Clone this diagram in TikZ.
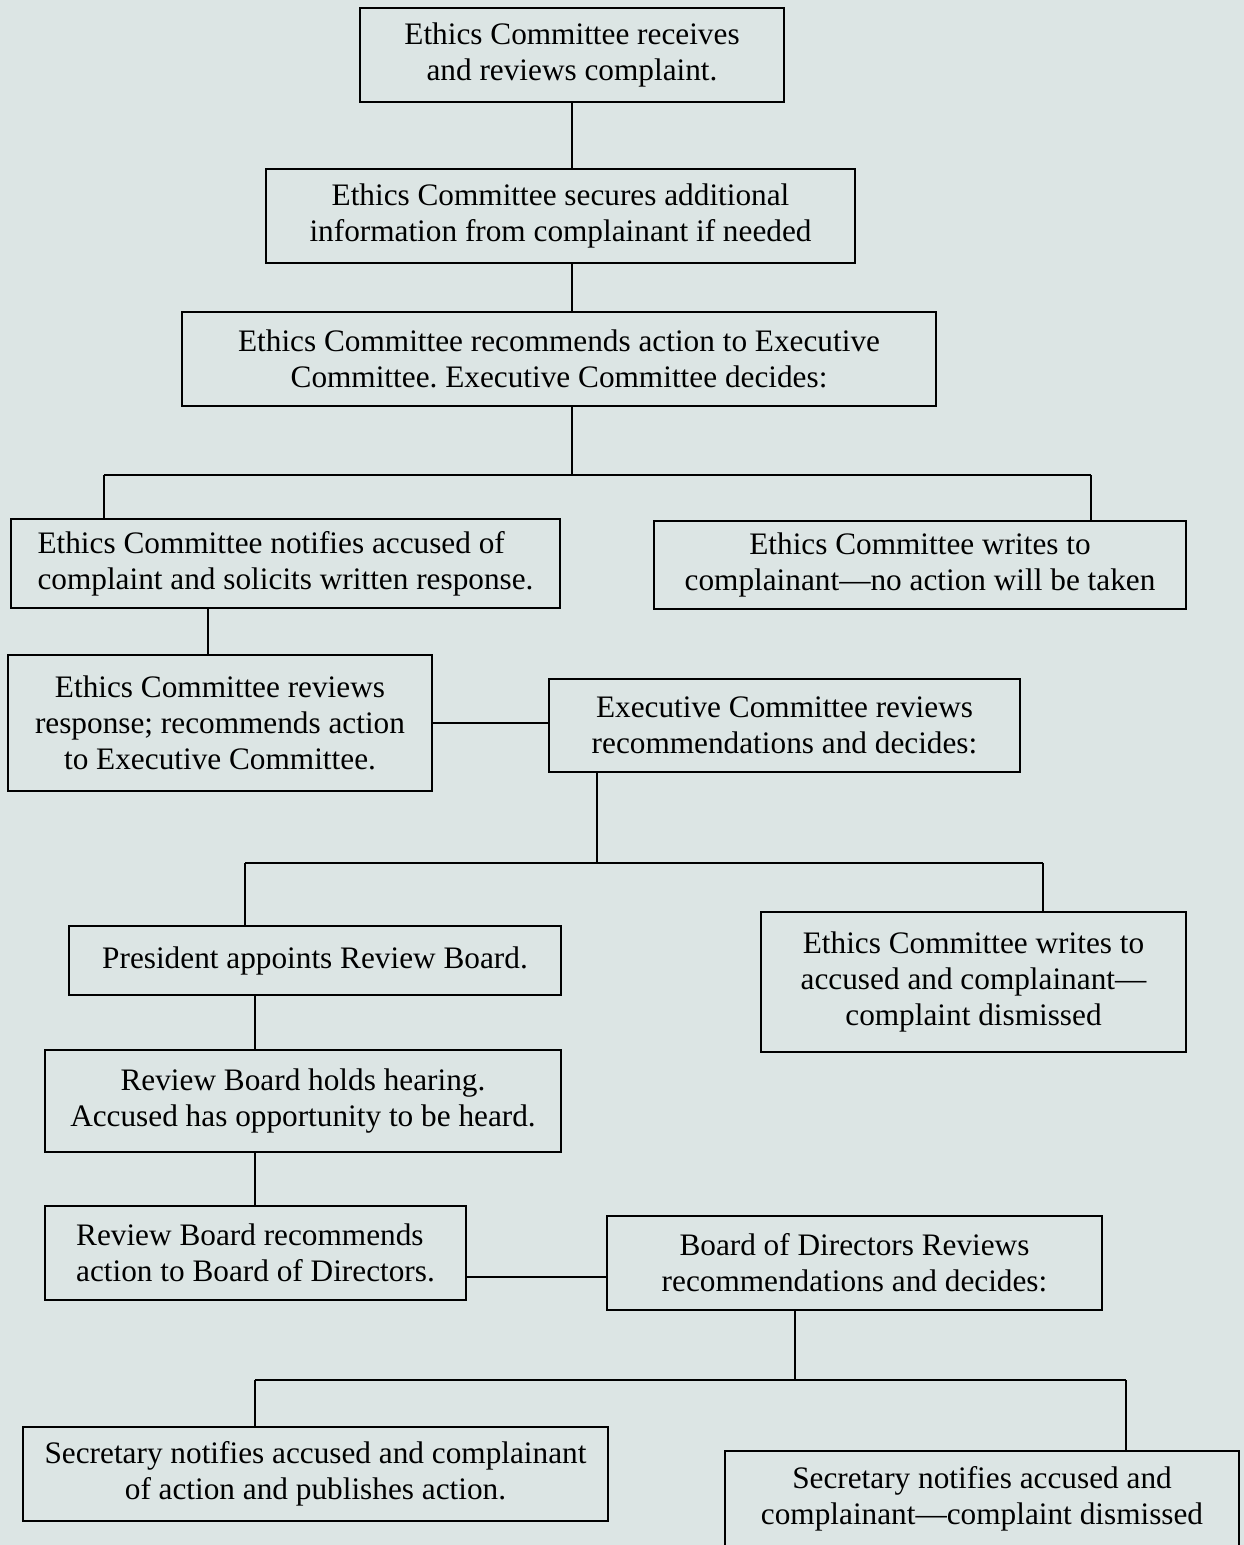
\documentclass[tikz,border=0pt]{standalone}
\usepackage{fontspec}
\setmainfont{Liberation Serif}
\usetikzlibrary{positioning}
\definecolor{bgpanel}{HTML}{DCE5E4}
\tikzset{
  box/.style={draw, line width=1.4pt, fill=bgpanel, align=center, inner sep=0pt,
    font=\fontsize{17.8}{20.5}\selectfont\frenchspacing},
  link/.style={line width=1.4pt}
}

\begin{document}
\begin{tikzpicture}[x=0.02cm, y=-0.02cm]
    \useasboundingbox[fill=bgpanel] (0,0) rectangle (1244,1545);
    % Intake
    \node[box, minimum width=8.48cm, minimum height=1.88cm] (receive) at (572,55)
         {Ethics Committee receives\\and reviews complaint.};
    \node[box, minimum width=11.78cm, minimum height=1.88cm] (secure) at (560.5,216)
         {Ethics Committee secures additional\\information from complainant if needed};
    \node[box, minimum width=15.08cm, minimum height=1.88cm] (recommend) at (559,359)
         {Ethics Committee recommends action to Executive\\Committee. Executive Committee decides:};
    % First decision
    \node[box, align=left, minimum width=10.98cm, minimum height=1.78cm] (notify) at (285.5,563.5)
         {Ethics Committee notifies accused of\\complaint and solicits written response.};
    \node[box, minimum width=10.64cm, minimum height=1.76cm] (noaction) at (920,565)
         {Ethics Committee writes to\\complainant---no action will be taken};
    \node[box, minimum width=8.48cm, minimum height=2.72cm] (response) at (220,723)
         {Ethics Committee reviews\\response; recommends action\\to Executive Committee.};
    \node[box, minimum width=9.42cm, minimum height=1.86cm] (execreview) at (784.5,725.5)
         {Executive Committee reviews\\recommendations and decides:};
    % Second decision
    \node[box, minimum width=9.84cm, minimum height=1.38cm] (appoint) at (315,960.5)
         {President appoints Review Board.};
    \node[box, minimum width=8.5cm, minimum height=2.8cm] (dismissA) at (973.5,982)
         {Ethics Committee writes to\\accused and complainant---\\complaint dismissed};
    \node[box, minimum width=10.32cm, minimum height=2.04cm] (hearing) at (303,1101)
         {Review Board holds hearing.\\Accused has opportunity to be heard.};
    \node[box, align=left, minimum width=8.42cm, minimum height=1.88cm] (boardrec) at (255.5,1253)
         {Review Board recommends\\action to Board of Directors.};
    \node[box, minimum width=9.9cm, minimum height=1.88cm] (directors) at (854.5,1263)
         {Board of Directors Reviews\\recommendations and decides:};
    % Final decision
    \node[box, minimum width=11.7cm, minimum height=1.88cm] (publish) at (315.5,1474)
         {Secretary notifies accused and complainant\\of action and publishes action.};
    \node[box, minimum width=10.28cm, minimum height=1.92cm] (dismissB) at (982,1499)
         {Secretary notifies accused and\\complainant---complaint dismissed};
    % Junction points
    \coordinate (j1) at (572,475);
    \coordinate (j1l) at (104,475);
    \coordinate (j1r) at (1091,475);
    \coordinate (c46) at (208,0);
    \coordinate (j2) at (597,863);
    \coordinate (j2l) at (245,863);
    \coordinate (j2r) at (1043,863);
    \coordinate (c810) at (255,0);
    \coordinate (r1112) at (0,1277);
    \coordinate (j3) at (795,1380);
    \coordinate (j3l) at (255,1380);
    \coordinate (j3r) at (1126,1380);
    % Connectors
    \draw[link] (receive.south) -- (receive.south |- secure.north);
    \draw[link] (receive.south |- secure.south) -- (receive.south |- recommend.north);
    \draw[link] (recommend.south -| j1) -- (j1);
    \draw[link] (j1l) -- (j1r);
    \draw[link] (j1l) -- (j1l |- notify.north);
    \draw[link] (j1r) -- (j1r |- noaction.north);
    \draw[link] (notify.south -| c46) -- (response.north -| c46);
    \draw[link] (response.east) -- (response.east -| execreview.west);
    \draw[link] (execreview.south -| j2) -- (j2);
    \draw[link] (j2l) -- (j2r);
    \draw[link] (j2l) -- (j2l |- appoint.north);
    \draw[link] (j2r) -- (j2r |- dismissA.north);
    \draw[link] (appoint.south -| c810) -- (hearing.north -| c810);
    \draw[link] (hearing.south -| c810) -- (boardrec.north -| c810);
    \draw[link] (boardrec.east |- r1112) -- (directors.west |- r1112);
    \draw[link] (directors.south -| j3) -- (j3);
    \draw[link] (j3l) -- (j3r);
    \draw[link] (j3l) -- (j3l |- publish.north);
    \draw[link] (j3r) -- (j3r |- dismissB.north);
\end{tikzpicture}
\end{document}
